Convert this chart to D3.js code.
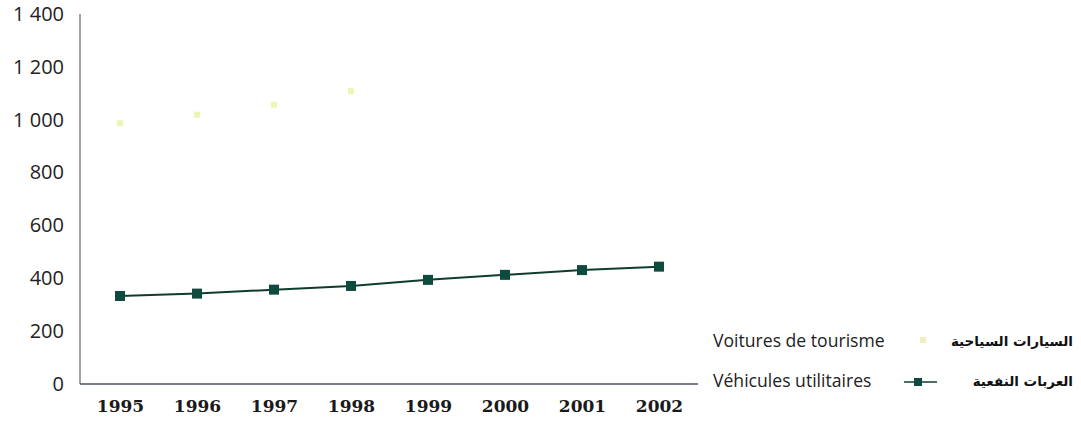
<!DOCTYPE html>
<html><head><meta charset="utf-8">
<script src="https://cdn.jsdelivr.net/npm/d3@7"></script>
<style>body{margin:0;background:#fff}</style>
</head><body>
<svg id="c" width="1081" height="421"></svg>
<script>
const years = ["1995","1996","1997","1998","1999","2000","2001","2002"];
const tourisme = [987, 1019, 1057, 1108, null, null, null, null];
const utilitaires = [333, 342, 357, 371, 394, 413, 431, 444];
const yTicks = [0, 200, 400, 600, 800, 1000, 1200, 1400];
const seriesNames = [
  {fr: "Voitures de tourisme", ar: "السيارات السياحية"},
  {fr: "Véhicules utilitaires", ar: "العربات النفعية"}
];

const svg = d3.select("#c");
const x = d3.scalePoint().domain(years).range([120, 659]);
const y = d3.scaleLinear().domain([0, 1400]).range([384, 14]);
const fmt = v => d3.format(",")(v).replace(/,/g, " ");

// axes lines
svg.append("line").attr("x1",80).attr("x2",80).attr("y1",y(1400)).attr("y2",y(0))
  .attr("stroke","#666").attr("stroke-width",1.2);
svg.append("line").attr("x1",80).attr("x2",698).attr("y1",y(0)).attr("y2",y(0))
  .attr("stroke","#4a5068").attr("stroke-width",1.4);

// y labels
const yAxis = d3.axisLeft(y).tickValues(yTicks).tickSize(0).tickPadding(0).tickFormat(fmt);
const gy = svg.append("g").attr("transform","translate(64,0)").call(yAxis);
gy.select(".domain").remove();
gy.selectAll("text").attr("font-family","Open Sans").attr("font-size",20).attr("fill","#222");

// x labels
const xAxis = d3.axisBottom(x).tickSize(0).tickPadding(0);
const gx = svg.append("g").attr("transform","translate(0,400)").call(xAxis);
gx.select(".domain").remove();
gx.selectAll("text").attr("font-family","DejaVu Serif").attr("font-weight","bold")
  .attr("font-size",17).attr("fill","#1a1a1a").attr("dy","0.35em").attr("y",0)
  .attr("transform","translate(0,6)");

// tourism points
const tData = years.map((yr,i)=>({yr, v: tourisme[i]})).filter(d=>d.v!=null);
svg.selectAll(".tp").data(tData).enter().append("rect")
  .attr("x", d=>x(d.yr)-3).attr("y", d=>y(d.v)-3).attr("width",6).attr("height",6)
  .attr("fill","#eef4b4");

// utilitaires line
const uData = years.map((yr,i)=>({yr, v: utilitaires[i]}));
const line = d3.line().x(d=>x(d.yr)).y(d=>y(d.v));
svg.append("path").datum(uData).attr("d", line).attr("fill","none")
  .attr("stroke","#0e3d30").attr("stroke-width",2);
svg.selectAll(".up").data(uData).enter().append("rect")
  .attr("x", d=>x(d.yr)-5).attr("y", d=>y(d.v)-5).attr("width",10).attr("height",10)
  .attr("fill","#0f4a3f");

// legend
const lg = svg.append("g");
const rows = [341, 381];
lg.append("text").attr("x",713).attr("y",rows[0]).attr("dy","0.35em").text(seriesNames[0].fr)
  .attr("font-family","Open Sans").attr("font-size",17.6).attr("fill","#222");
lg.append("rect").attr("x",920).attr("y",rows[0]-4).attr("width",6).attr("height",6).attr("fill","#eef0c0");
lg.append("text").attr("x",1073).attr("y",rows[0]).attr("dy","0.35em").attr("text-anchor","end")
  .text(seriesNames[0].ar)
  .attr("font-family","DejaVu Sans").attr("font-weight","bold").attr("font-size",13.5).attr("fill","#111");

lg.append("text").attr("x",713).attr("y",rows[1]).attr("dy","0.35em").text(seriesNames[1].fr)
  .attr("font-family","Open Sans").attr("font-size",17.6).attr("fill","#222");
lg.append("line").attr("x1",904).attr("x2",937).attr("y1",rows[1]+1).attr("y2",rows[1]+1)
  .attr("stroke","#0e3d30").attr("stroke-width",1.5);
lg.append("rect").attr("x",914).attr("y",rows[1]-3).attr("width",8).attr("height",8).attr("fill","#0f4a3f");
lg.append("text").attr("x",1073).attr("y",rows[1]).attr("dy","0.35em").attr("text-anchor","end")
  .text(seriesNames[1].ar)
  .attr("font-family","DejaVu Sans").attr("font-weight","bold").attr("font-size",13.5).attr("fill","#111");
</script>
</body></html>
